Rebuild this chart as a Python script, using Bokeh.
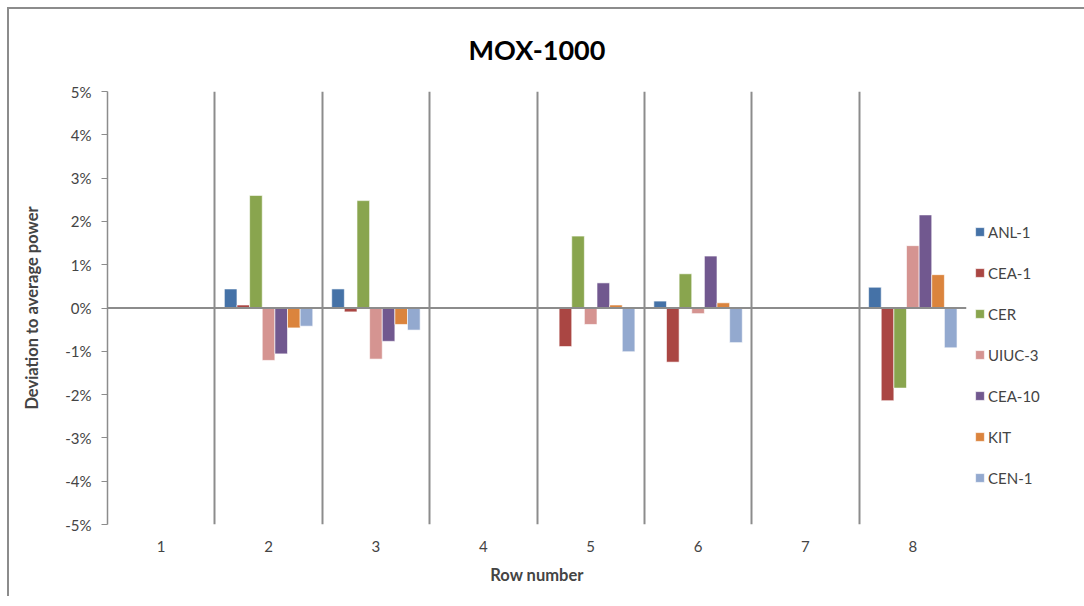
import math
from bokeh.plotting import figure
from bokeh.models import (ColumnDataSource, FixedTicker, PrintfTickFormatter, Span,
                          Legend, LegendItem, Range1d, Title)
from bokeh.transform import dodge
from bokeh.embed import file_html
from bokeh.resources import INLINE

nan = float("nan")

# ---- data (deviation to average power, %) ----
rows = [1, 2, 3, 4, 5, 6, 7, 8]
row_labels = ["1", "2", "3", "4", "5", "6", "7", "8"]
series_names = ["ANL-1", "CEA-1", "CER", "UIUC-3", "CEA-10", "KIT", "CEN-1"]
anl1 = [nan, 0.44, 0.44, nan, 0.02, 0.16, nan, 0.48]
cea1 = [nan, 0.07, -0.09, nan, -0.89, -1.25, nan, -2.14]
cer = [nan, 2.60, 2.48, nan, 1.66, 0.79, nan, -1.85]
uiuc3 = [nan, -1.21, -1.18, nan, -0.38, -0.13, nan, 1.44]
cea10 = [nan, -1.06, -0.77, nan, 0.58, 1.20, nan, 2.15]
kit = [nan, -0.46, -0.38, nan, 0.07, 0.12, nan, 0.77]
cen1 = [nan, -0.42, -0.51, nan, -1.01, -0.80, nan, -0.92]
y_ticks = [-5, -4, -3, -2, -1, 0, 1, 2, 3, 4, 5]

colors = ["#4572A7", "#AA4643", "#89A54E", "#D59491", "#71588F", "#DB843D", "#93A9CF"]
series_values = [anl1, cea1, cer, uiuc3, cea10, kit, cen1]

FONT = "Lato"
GRAY = "#8c8c8c"
TICK_FS = "15px"
AXIS_FS = "16.5px"

source = ColumnDataSource(data=dict(row=rows, **{n: v for n, v in zip(series_names, series_values)}))

p = figure(frame_width=859, frame_height=433, output_backend="svg", toolbar_location=None,
           x_range=Range1d(0.5, 8.5), y_range=Range1d(-5, 5),
           min_border_left=98, min_border_right=10, min_border_top=82, min_border_bottom=72)
p.styles = {"border-left": "2px solid #8c8c8c", "border-top": "2px solid #8c8c8c",
            "margin-left": "7px", "margin-top": "7px"}
p.outline_line_color = None
p.background_fill_color = "white"
p.border_fill_color = "white"

t = Title(text="MOX-1000", align="center", vertical_align="top", text_font=FONT,
          text_font_size="27px", text_font_style="bold", text_color="black", standoff=47)
p.add_layout(t, "above")

n = len(series_names)
w = 1.0 / (n + 1.5)
items = []
for i, (name, col) in enumerate(zip(series_names, colors)):
    r = p.vbar(x=dodge("row", (i - (n - 1) / 2) * w, range=p.x_range), top=name, bottom=0,
               width=w, source=source, fill_color=col, line_color="white", line_alpha=0.6,
               line_width=1)
    items.append(LegendItem(label=name, renderers=[r]))

# zero line (category axis crossing at 0)
p.add_layout(Span(location=0, dimension="width", line_color=GRAY, line_width=2))

# x grid: lines between categories
p.xgrid.ticker = FixedTicker(ticks=[r + 0.5 for r in rows])
p.xgrid.grid_line_color = GRAY
p.xgrid.grid_line_width = 2
p.ygrid.visible = False

# x axis
p.xaxis.ticker = FixedTicker(ticks=rows)
p.xaxis.major_label_overrides = {r: l for r, l in zip(rows, row_labels)}
p.xaxis.axis_line_color = None
p.xaxis.major_tick_line_color = None
p.xaxis.minor_tick_line_color = None
p.xaxis.major_tick_out = 0
p.xaxis.major_tick_in = 0
p.xaxis.major_label_standoff = 16
p.xaxis.axis_label = "Row number"
p.xaxis.axis_label_standoff = 10
p.xaxis.axis_label_text_font = FONT
p.xaxis.axis_label_text_font_size = AXIS_FS
p.xaxis.axis_label_text_font_style = "bold"
p.xaxis.major_label_text_font = FONT
p.xaxis.major_label_text_font_size = TICK_FS

# y axis
p.yaxis.ticker = FixedTicker(ticks=y_ticks)
p.yaxis.formatter = PrintfTickFormatter(format="%d%%")
p.yaxis.axis_line_color = GRAY
p.yaxis.axis_line_width = 1.5
p.yaxis.major_tick_line_color = GRAY
p.yaxis.major_tick_out = 6
p.yaxis.major_tick_in = 0
p.yaxis.minor_tick_line_color = None
p.yaxis.major_label_standoff = 10
p.yaxis.axis_label = "Deviation to average power"
p.yaxis.axis_label_standoff = 20
p.yaxis.axis_label_text_font = FONT
p.yaxis.axis_label_text_font_size = AXIS_FS
p.yaxis.axis_label_text_font_style = "bold"
p.yaxis.major_label_text_font = FONT
p.yaxis.major_label_text_font_size = TICK_FS

legend = Legend(items=items, location=(8, 36), border_line_color=None,
                background_fill_alpha=0, padding=10, margin=0,
                glyph_width=11, glyph_height=11, label_height=21, spacing=20,
                label_standoff=3, label_text_font=FONT, label_text_font_size=TICK_FS)
p.add_layout(legend, "right")

open("out.html", "w").write(file_html(p, INLINE))
